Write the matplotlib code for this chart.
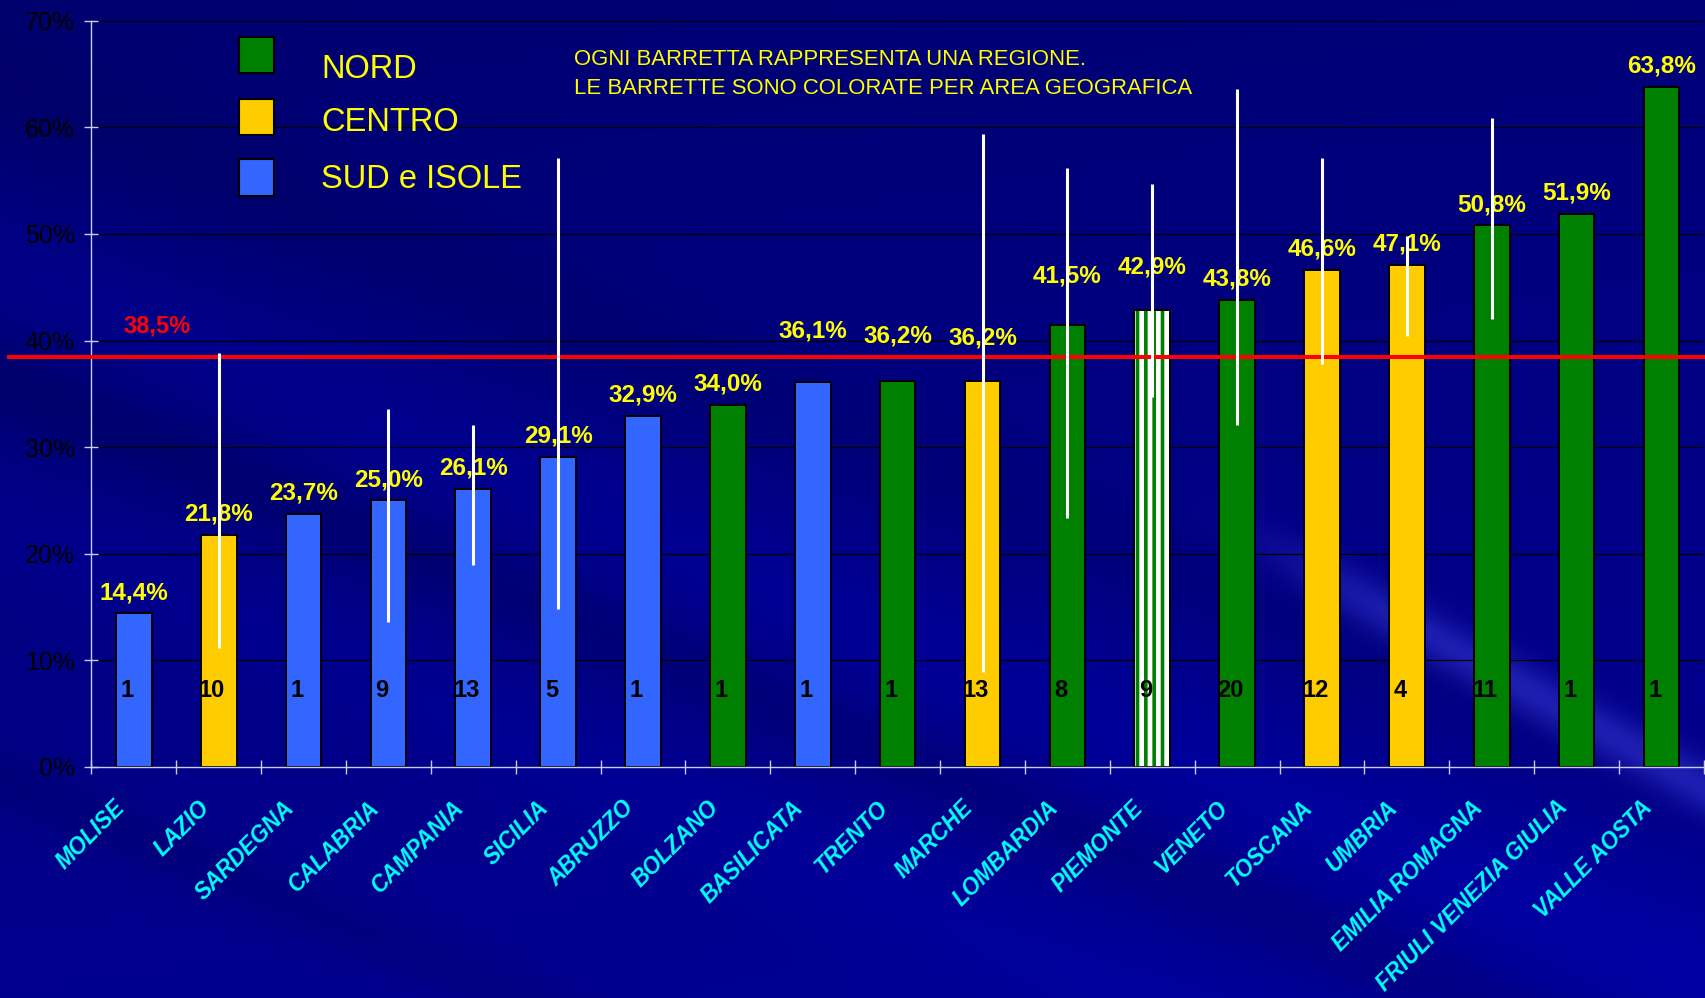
import numpy as np
import matplotlib
matplotlib.use("Agg")
import matplotlib.pyplot as plt
from matplotlib.patches import Rectangle

plt.rcParams['font.family'] = ['Liberation Sans', 'DejaVu Sans']

regions = ['MOLISE', 'LAZIO', 'SARDEGNA', 'CALABRIA', 'CAMPANIA', 'SICILIA',
           'ABRUZZO', 'BOLZANO', 'BASILICATA', 'TRENTO', 'MARCHE', 'LOMBARDIA',
           'PIEMONTE', 'VENETO', 'TOSCANA', 'UMBRIA', 'EMILIA ROMAGNA',
           'FRIULI VENEZIA GIULIA', 'VALLE AOSTA']
areas = ['SUD', 'CENTRO', 'SUD', 'SUD', 'SUD', 'SUD', 'SUD', 'NORD', 'SUD',
         'NORD', 'CENTRO', 'NORD', 'NORD', 'NORD', 'CENTRO', 'CENTRO', 'NORD',
         'NORD', 'NORD']
pct = [14.4, 21.8, 23.7, 25.0, 26.1, 29.1, 32.9, 34.0, 36.1, 36.2, 36.2,
       41.5, 42.9, 43.8, 46.6, 47.1, 50.8, 51.9, 63.8]
n_units = [1, 10, 1, 9, 13, 5, 1, 1, 1, 1, 13, 8, 9, 20, 12, 4, 11, 1, 1]
nan = np.nan
range_low = [nan, 11.2, nan, 13.6, 18.9, 14.8, nan, nan, nan, nan, 8.9,
             23.4, 34.7, 32.1, 37.8, 40.4, 42.0, nan, nan]
range_high = [nan, 38.8, nan, 33.6, 32.1, 57.1, nan, nan, nan, nan, 59.4,
              56.2, 54.7, 63.6, 57.1, 49.8, 60.9, nan, nan]
national_avg = 38.5

legend_labels = ['NORD', 'CENTRO', 'SUD e ISOLE']
area_colors = {'NORD': '#008000', 'CENTRO': '#FFCC00', 'SUD': '#3366FF'}

# labels pushed up so they clear the average line
label_lift = {'BASILICATA': 4.15, 'TRENTO': 3.65, 'MARCHE': 3.45,
              'LOMBARDIA': 3.9, 'PIEMONTE': 3.4}

W, H = 1706, 998
fig = plt.figure(figsize=(W / 100, H / 100), dpi=100)

# slide background: navy with soft diagonal streaks
yy, xx = np.mgrid[0:H, 0:W].astype(float)
blue = 112 + 30 * (yy / H) + 8 * (xx / W)
d1 = yy - 0.42 * xx
blue += 14 * np.exp(-((d1 - 260) / 70) ** 2)
blue += 10 * np.exp(-((d1 - 520) / 60) ** 2)
blue -= 16 * np.exp(-((d1 - 380) / 45) ** 2)
blue -= 14 * np.exp(-((d1 - 780) / 35) ** 2)
blue -= 10 * np.exp(-((d1 - 80) / 60) ** 2)
d2 = yy - 0.55 * xx
streak = np.exp(-((d2 + 150) / 28) ** 2) / (1 + np.exp(-(xx - 1300) / 40))
blue += 45 * streak
red = 30 * streak
green = 30 * streak
bg_img = np.dstack([red, green, blue]) / 255.0
bg_img = np.clip(bg_img, 0, 1)
bg = fig.add_axes([0, 0, 1, 1], zorder=-10)
bg.imshow(bg_img, aspect='auto', extent=[0, 1, 0, 1], origin='upper')
bg.axis('off')

ax = fig.add_axes([91.4 / W, 1 - 767 / H, 1612.5 / W, 746.3 / H])
ax.patch.set_alpha(0)

x = np.arange(len(regions))
for i, (name, area, v) in enumerate(zip(regions, areas, pct)):
    if name == 'PIEMONTE':
        plt.rcParams['hatch.linewidth'] = 2.6
        ax.bar(i, v, width=0.42, color='white', edgecolor='#008000',
               hatch='||', linewidth=0, zorder=2)
        ax.bar(i, v, width=0.42, fill=False, edgecolor='black',
               linewidth=1.4, zorder=2.1)
    else:
        ax.bar(i, v, width=0.42, color=area_colors[area], edgecolor='black',
               linewidth=1.4, zorder=2)

ax.axhline(national_avg, xmin=-0.0513, xmax=1, color='#FF0000', lw=2.9,
           zorder=3, clip_on=False)
ax.text(0.27, national_avg + 2.27, f"{national_avg:.1f}".replace('.', ',') + '%',
        color='#FF0000', fontsize=17, fontweight='bold', ha='center',
        va='baseline', zorder=5)

ax.vlines(x, range_low, range_high, colors='white', lw=2.2, zorder=4)

for i, (name, v, n) in enumerate(zip(regions, pct, n_units)):
    ax.text(i, v + label_lift.get(name, 1.35),
            f"{v:.1f}".replace('.', ',') + '%', color='#FFFF00', fontsize=17.5,
            fontweight='bold', ha='center', va='baseline', zorder=3.5)
    ax.text(i - 0.08, 6.6, str(n), color='black', fontsize=17,
            fontweight='bold', ha='center', va='baseline', zorder=3.5)
    ax.text(i - 0.15, -3.5, name, color='#00FFFF', fontsize=16.3,
            fontweight='bold', fontstyle='italic', rotation=45,
            rotation_mode='anchor', ha='right', va='center', clip_on=False)

ax.set_xlim(-0.5, len(regions) - 0.5)
ax.set_ylim(0, 70)
ax.set_yticks(np.arange(0, 71, 10))
ax.set_yticklabels([f"{t}%" for t in range(0, 71, 10)])
ax.set_xticks(np.arange(-0.5, len(regions), 1.0))
ax.set_xticklabels([])
ax.tick_params(axis='y', direction='inout', length=10, width=1, pad=7,
               colors='#C8CCF0', labelcolor='black', labelsize=18)
ax.tick_params(axis='x', direction='inout', length=10, width=1,
               colors='#C8CCF0')
for t in ax.get_yticks():
    if t > 0:
        ax.axhline(t, color='black', lw=0.9, zorder=1)
for side in ['top', 'right']:
    ax.spines[side].set_visible(False)
for side in ['left', 'bottom']:
    ax.spines[side].set_color('#C8CCF0')
    ax.spines[side].set_linewidth(1)

# legend drawn as plain squares and labels
sq_y = [(37, 73), (99, 135), (159, 196)]
txt_base = [78, 131, 188]
for lab, key, (y0, y1), yb in zip(legend_labels, ['NORD', 'CENTRO', 'SUD'],
                                  sq_y, txt_base):
    fig.patches.append(Rectangle((239 / W, 1 - y1 / H), 35 / W, (y1 - y0) / H,
                                 transform=fig.transFigure,
                                 facecolor=area_colors[key], edgecolor='black',
                                 linewidth=1.5))
    fig.text(321 / W, 1 - yb / H, lab, color='#FFFF00', fontsize=23.5,
             va='baseline', ha='left')

fig.text(574 / W, 1 - 65 / H, 'OGNI BARRETTA RAPPRESENTA UNA REGIONE.',
         color='#FFFF00', fontsize=15.9, va='baseline')
fig.text(574 / W, 1 - 94.3 / H,
         'LE BARRETTE SONO COLORATE PER AREA GEOGRAFICA',
         color='#FFFF00', fontsize=15.9, va='baseline')

fig.savefig('out.png', dpi=100)
